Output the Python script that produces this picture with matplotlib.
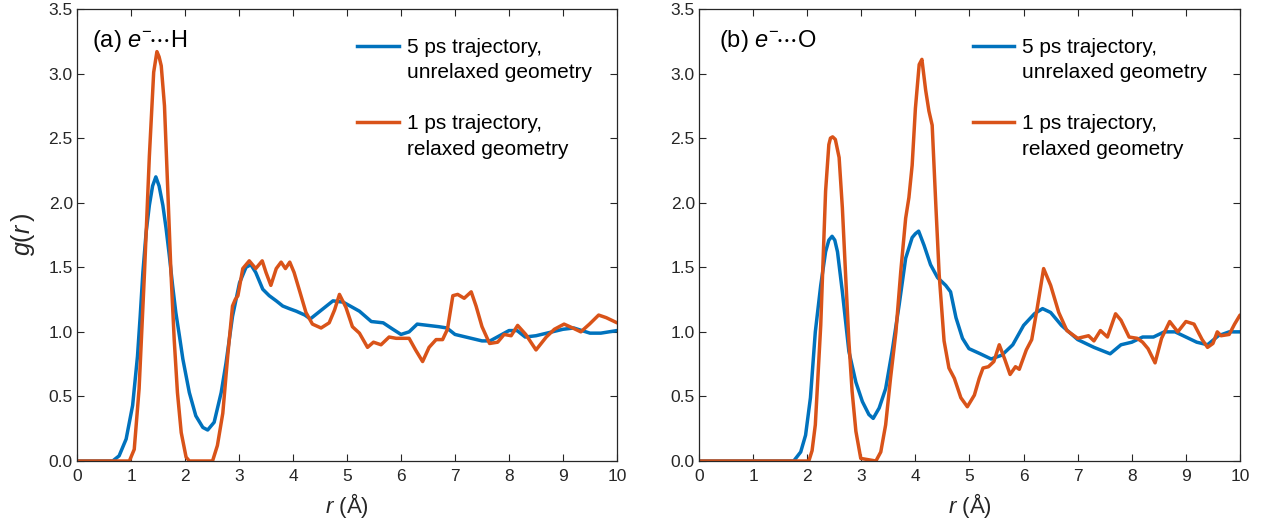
import matplotlib
matplotlib.use("Agg")
import matplotlib.pyplot as plt
from matplotlib.lines import Line2D
from matplotlib.ticker import FormatStrFormatter

plt.rcParams['font.family'] = ['Liberation Sans', 'DejaVu Sans']
plt.rcParams['mathtext.fontset'] = 'custom'
plt.rcParams['mathtext.rm'] = 'Liberation Sans'
plt.rcParams['mathtext.it'] = 'Liberation Sans:italic'

BLUE = '#0072BD'
ORANGE = '#D95319'
DARK = '#262626'

# (a) e-...H, 5 ps trajectory (unrelaxed)
r_a_5ps = [0, 0.66, 0.78, 0.91, 1.03, 1.12, 1.17, 1.22, 1.28, 1.34,
           1.40, 1.46, 1.52, 1.59, 1.65, 1.71, 1.77, 1.83, 1.90, 1.96,
           2.08, 2.20, 2.33, 2.42, 2.54, 2.67, 2.76, 2.88, 3.01, 3.13,
           3.22, 3.31, 3.44, 3.56, 3.69, 3.81, 3.93, 4.06, 4.22, 4.32,
           4.50, 4.74, 4.93, 5.23, 5.45, 5.67, 5.85, 6.00, 6.15, 6.30,
           6.50, 6.70, 6.85, 7.00, 7.30, 7.50, 7.65, 8.00, 8.15, 8.30,
           8.50, 8.80, 9.00, 9.20, 9.35, 9.50, 9.70, 10.0]
g_a_5ps = [0, 0, 0.04, 0.17, 0.43, 0.81, 1.12, 1.46, 1.77, 1.98,
           2.13, 2.20, 2.13, 1.98, 1.80, 1.59, 1.36, 1.15, 0.96, 0.79,
           0.53, 0.35, 0.26, 0.24, 0.30, 0.53, 0.76, 1.12, 1.38, 1.50,
           1.52, 1.46, 1.33, 1.28, 1.24, 1.20, 1.18, 1.16, 1.13, 1.10,
           1.16, 1.24, 1.23, 1.16, 1.08, 1.07, 1.02, 0.98, 1.00, 1.06,
           1.05, 1.04, 1.03, 0.98, 0.95, 0.93, 0.93, 1.01, 1.01, 0.96,
           0.97, 1.00, 1.02, 1.03, 1.01, 0.99, 0.99, 1.01]

# (a) e-...H, 1 ps trajectory (relaxed)
r_a_1ps = [0, 0.97, 1.06, 1.15, 1.25, 1.34, 1.42, 1.48, 1.52, 1.56,
           1.62, 1.68, 1.74, 1.80, 1.86, 1.93, 2.02, 2.08, 2.51, 2.60,
           2.70, 2.79, 2.88, 2.93, 2.98, 3.07, 3.19, 3.31, 3.43, 3.50,
           3.59, 3.69, 3.78, 3.86, 3.94, 4.02, 4.12, 4.24, 4.36, 4.52,
           4.67, 4.77, 4.86, 4.98, 5.10, 5.23, 5.38, 5.49, 5.63, 5.78,
           5.91, 6.15, 6.27, 6.40, 6.52, 6.65, 6.77, 6.86, 6.96, 7.05,
           7.17, 7.30, 7.39, 7.50, 7.64, 7.79, 7.91, 8.04, 8.16, 8.31,
           8.50, 8.69, 8.84, 9.02, 9.18, 9.33, 9.49, 9.66, 9.80, 10.0]
g_a_1ps = [0, 0, 0.09, 0.56, 1.46, 2.36, 3.01, 3.17, 3.13, 3.06,
           2.75, 2.11, 1.46, 0.94, 0.53, 0.22, 0.03, 0, 0, 0.12,
           0.37, 0.81, 1.20, 1.25, 1.28, 1.49, 1.55, 1.49, 1.55, 1.46,
           1.36, 1.49, 1.54, 1.49, 1.54, 1.46, 1.32, 1.15, 1.06, 1.03,
           1.07, 1.17, 1.29, 1.19, 1.04, 0.99, 0.88, 0.92, 0.90, 0.96,
           0.95, 0.95, 0.86, 0.77, 0.88, 0.94, 0.94, 1.02, 1.28, 1.29,
           1.26, 1.31, 1.20, 1.04, 0.91, 0.92, 0.98, 0.97, 1.05, 0.98,
           0.86, 0.96, 1.02, 1.06, 1.03, 1.00, 1.06, 1.13, 1.11, 1.07]

# (b) e-...O, 5 ps trajectory (unrelaxed)
r_b_5ps = [0, 1.75, 1.88, 1.97, 2.06, 2.15, 2.25, 2.34, 2.40, 2.46,
           2.51, 2.56, 2.65, 2.77, 2.90, 3.02, 3.14, 3.22, 3.33, 3.45,
           3.57, 3.70, 3.82, 3.94, 4.00, 4.06, 4.16, 4.28, 4.41, 4.56,
           4.65, 4.75, 4.87, 4.99, 5.20, 5.40, 5.60, 5.80, 6.00, 6.20,
           6.35, 6.50, 6.70, 7.00, 7.30, 7.60, 7.80, 8.00, 8.20, 8.40,
           8.60, 8.80, 9.00, 9.20, 9.40, 9.60, 9.80, 10.0]
g_b_5ps = [0, 0, 0.07, 0.20, 0.49, 1.00, 1.36, 1.62, 1.71, 1.74,
           1.71, 1.62, 1.31, 0.85, 0.61, 0.46, 0.36, 0.33, 0.41, 0.56,
           0.85, 1.21, 1.57, 1.73, 1.76, 1.78, 1.67, 1.52, 1.42, 1.36,
           1.31, 1.11, 0.95, 0.87, 0.83, 0.79, 0.82, 0.90, 1.05, 1.14,
           1.18, 1.15, 1.05, 0.94, 0.88, 0.83, 0.90, 0.92, 0.96, 0.96,
           1.00, 1.00, 0.96, 0.92, 0.90, 0.97, 1.00, 1.00]

# (b) e-...O, 1 ps trajectory (relaxed)
r_b_1ps = [0, 2.03, 2.09, 2.15, 2.25, 2.34, 2.40, 2.43, 2.47, 2.52,
           2.59, 2.65, 2.71, 2.77, 2.83, 2.90, 2.99, 3.27, 3.36, 3.45,
           3.54, 3.64, 3.73, 3.82, 3.88, 3.94, 4.00, 4.07, 4.12, 4.19,
           4.25, 4.31, 4.38, 4.44, 4.53, 4.62, 4.72, 4.84, 4.96, 5.09,
           5.18, 5.25, 5.35, 5.45, 5.55, 5.65, 5.75, 5.85, 5.92, 6.05,
           6.15, 6.25, 6.37, 6.50, 6.65, 6.80, 7.00, 7.20, 7.30, 7.42,
           7.55, 7.70, 7.80, 7.95, 8.10, 8.20, 8.30, 8.43, 8.55, 8.70,
           8.85, 9.00, 9.15, 9.30, 9.40, 9.50, 9.58, 9.65, 9.80, 9.90,
           10.0]
g_b_1ps = [0, 0, 0.08, 0.28, 1.05, 2.09, 2.45, 2.50, 2.51, 2.49,
           2.35, 1.96, 1.44, 0.93, 0.54, 0.23, 0.02, 0, 0.07, 0.28,
           0.64, 1.00, 1.47, 1.88, 2.04, 2.29, 2.73, 3.07, 3.11, 2.87,
           2.71, 2.60, 1.96, 1.44, 0.93, 0.72, 0.64, 0.49, 0.42, 0.51,
           0.64, 0.72, 0.73, 0.77, 0.90, 0.79, 0.67, 0.73, 0.71, 0.86,
           0.94, 1.18, 1.49, 1.36, 1.15, 1.01, 0.95, 0.97, 0.93, 1.01,
           0.96, 1.14, 1.09, 0.96, 0.95, 0.92, 0.87, 0.76, 0.95, 1.08,
           1.00, 1.08, 1.06, 0.94, 0.88, 0.91, 1.00, 0.97, 0.98, 1.06,
           1.13]

labels = ['5 ps trajectory,', 'unrelaxed geometry', ' ',
          '1 ps trajectory,', 'relaxed geometry']
x_ticks = list(range(0, 11))
y_ticks = [0.0, 0.5, 1.0, 1.5, 2.0, 2.5, 3.0, 3.5]

fig = plt.figure(figsize=(12.64, 5.31), dpi=100)
ax_a = fig.add_axes([77 / 1264, 70 / 531, 540 / 1264, 452 / 531])
ax_b = fig.add_axes([699 / 1264, 70 / 531, 541 / 1264, 452 / 531])

panels = [
    (ax_a, r_a_5ps, g_a_5ps, r_a_1ps, g_a_1ps, r'(a) $e^{-}\!\cdots$H', 0.028, 0.519),
    (ax_b, r_b_5ps, g_b_5ps, r_b_1ps, g_b_1ps, r'(b) $e^{-}\!\cdots$O', 0.037, 0.506),
]

for ax, r5, g5, r1, g1, title, tx, lx in panels:
    ax.plot(r5, g5, color=BLUE, lw=2.5, solid_capstyle='round', solid_joinstyle='round')
    ax.plot(r1, g1, color=ORANGE, lw=2.5, solid_capstyle='round', solid_joinstyle='round')
    ax.set_xlim(0, 10)
    ax.set_ylim(0, 3.5)
    ax.set_xticks(x_ticks)
    ax.set_yticks(y_ticks)
    ax.yaxis.set_major_formatter(FormatStrFormatter('%.1f'))
    ax.tick_params(direction='in', length=5, width=0.8, top=True, right=True,
                   labelsize=12.5, colors=DARK)
    ax.tick_params(axis='x', pad=6)
    ax.tick_params(axis='y', pad=3)
    for s in ax.spines.values():
        s.set_color(DARK)
        s.set_linewidth(0.9)
    ax.set_xlabel(r'$r$ (Å)', fontsize=16, color=DARK, labelpad=5)
    ax.text(tx, 0.916, title, transform=ax.transAxes, fontsize=17,
            color='black', va='baseline', ha='left')

    handles = [Line2D([], [], color=BLUE, lw=2.5),
               Line2D([], [], color='none'),
               Line2D([], [], color='none'),
               Line2D([], [], color=ORANGE, lw=2.5),
               Line2D([], [], color='none')]
    ax.legend(handles, labels, loc='upper left', bbox_to_anchor=(lx, 0.936),
              frameon=False, fontsize=15, handlelength=2.0,
              handletextpad=0.38, labelspacing=0.31, borderpad=0,
              borderaxespad=0)

ax_a.set_ylabel(r'$g(r\,)$', fontsize=18, color=DARK, labelpad=8)

fig.savefig('out.png', dpi=100)
